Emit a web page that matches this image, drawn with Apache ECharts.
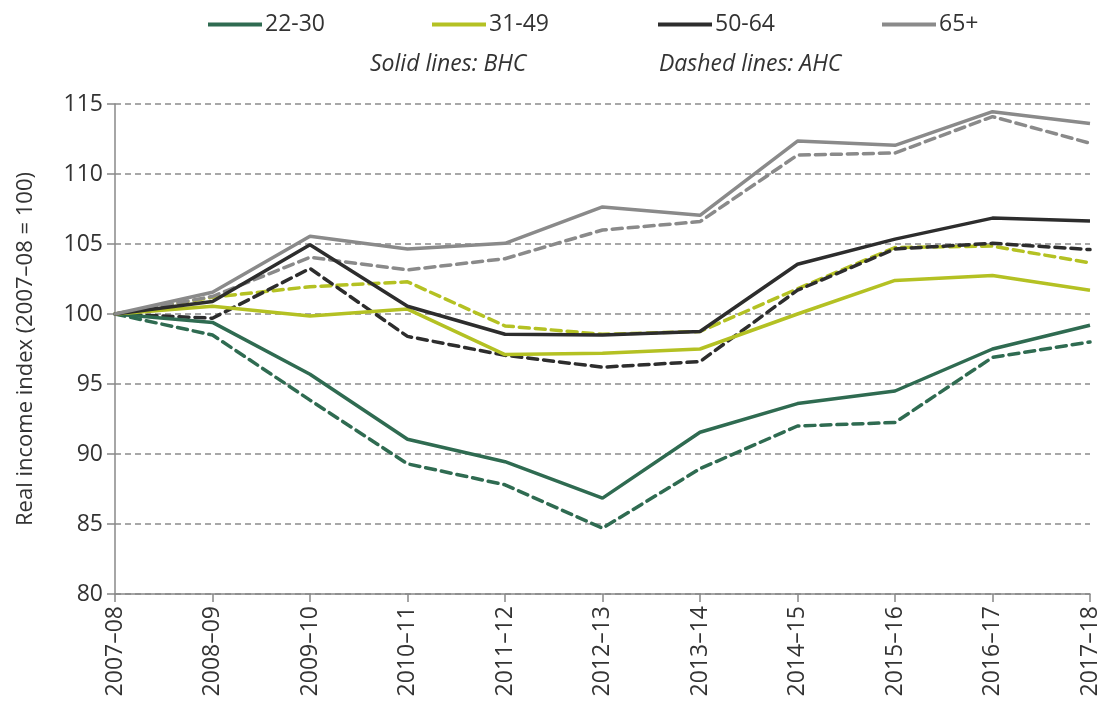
<!DOCTYPE html>
<html>
<head>
<meta charset="utf-8">
<script src="https://cdn.jsdelivr.net/npm/echarts@6/dist/echarts.min.js"></script>
<style>
html,body{margin:0;padding:0;background:#fff;}
#chart{width:1108px;height:713px;}
</style>
</head>
<body>
<div id="chart"></div>
<script>
const categories = ['2007–08','2008–09','2009–10','2010–11','2011–12','2012–13','2013–14','2014–15','2015–16','2016–17','2017–18'];
const yTicks = [80, 85, 90, 95, 100, 105, 110, 115];

const bhc_22_30 = [100, 99.4, 95.7, 91.05, 89.45, 86.85, 91.55, 93.6, 94.5, 97.5, 99.2];
const ahc_22_30 = [100, 98.5, 93.85, 89.3, 87.8, 84.7, 88.95, 92.0, 92.25, 96.9, 98.0];
const bhc_31_49 = [100, 100.55, 99.85, 100.35, 97.1, 97.2, 97.5, 100.0, 102.4, 102.75, 101.7];
const ahc_31_49 = [100, 101.2, 101.95, 102.3, 99.15, 98.55, 98.75, 101.8, 104.75, 104.85, 103.65];
const bhc_50_64 = [100, 100.9, 104.95, 100.55, 98.55, 98.5, 98.75, 103.55, 105.35, 106.85, 106.65];
const ahc_50_64 = [100, 99.7, 103.25, 98.4, 97.05, 96.2, 96.6, 101.7, 104.65, 105.05, 104.6];
const bhc_65 = [100, 101.55, 105.55, 104.65, 105.05, 107.65, 107.05, 112.35, 112.05, 114.45, 113.6];
const ahc_65 = [100, 101.25, 104.05, 103.15, 103.95, 106.0, 106.6, 111.35, 111.5, 114.1, 112.2];

const groups = ['22-30', '31-49', '50-64', '65+'];
const colors = ['#2f6b51', '#b4c123', '#2d2d2d', '#8a8a8a'];
const bhcData = [bhc_22_30, bhc_31_49, bhc_50_64, bhc_65];
const ahcData = [ahc_22_30, ahc_31_49, ahc_50_64, ahc_65];

const FONT = '"Open Sans", "Noto Sans", sans-serif';
const TEXT = '#333333';

const series = [];
groups.forEach((g, i) => {
  series.push({
    name: g, type: 'line', data: ahcData[i], symbol: 'none', z: 2,
    lineStyle: {color: colors[i], width: 3.5, type: [10, 6], cap: 'round'},
    itemStyle: {color: colors[i]}, emphasis: {disabled: true}
  });
});
groups.forEach((g, i) => {
  series.push({
    name: g, type: 'line', data: bhcData[i], symbol: 'none', z: 3,
    lineStyle: {color: colors[i], width: 3.5, type: 'solid'},
    itemStyle: {color: colors[i]}, emphasis: {disabled: true}
  });
});

const legendLefts = [203, 427, 653, 877];
const legends = groups.map((g, i) => ({
  data: [{name: g, icon: 'rect', itemStyle: {color: colors[i]}}],
  left: legendLefts[i], top: 8,
  itemWidth: 54, itemHeight: 4, itemGap: 0,
  selectedMode: false,
  textStyle: {fontFamily: FONT, fontSize: 23, color: TEXT, padding: [0, 0, 0, -2]}
}));

const chart = echarts.init(document.getElementById('chart'), null, {renderer: 'canvas'});
chart.setOption({
  animation: false,
  backgroundColor: '#ffffff',
  legend: legends,
  graphic: [
    {type: 'text', left: 370, top: 53, style: {text: 'Solid lines: BHC', font: 'italic 23px "Open Sans", sans-serif', fill: TEXT}},
    {type: 'text', left: 659, top: 53, style: {text: 'Dashed lines: AHC', font: 'italic 23px "Open Sans", sans-serif', fill: TEXT}}
  ],
  grid: {left: 115, right: 18, top: 104, bottom: 119, containLabel: false},
  xAxis: {
    type: 'category', data: categories, boundaryGap: false,
    axisLine: {lineStyle: {color: '#888888', width: 1.5}},
    axisTick: {show: true, length: 8, inside: false, alignWithLabel: true, lineStyle: {color: '#888888', width: 1.5}},
    axisLabel: {rotate: 90, fontFamily: FONT, fontSize: 23, color: TEXT, margin: 12, interval: 0},
    splitLine: {show: false}
  },
  yAxis: {
    type: 'value', min: yTicks[0], max: yTicks[yTicks.length - 1], interval: 5,
    name: 'Real income index (2007–08 = 100)', nameLocation: 'middle', nameGap: 78,
    nameTextStyle: {fontFamily: FONT, fontSize: 22, color: TEXT},
    axisLine: {show: true, lineStyle: {color: '#888888', width: 1.5}},
    axisTick: {show: true, length: 8, inside: false, lineStyle: {color: '#888888', width: 1.5}},
    axisLabel: {fontFamily: FONT, fontSize: 23, color: TEXT, margin: 12},
    splitLine: {show: true, lineStyle: {color: '#8c8c8c', width: 1.5, type: [6, 4]}}
  },
  series: series
});
</script>
</body>
</html>
